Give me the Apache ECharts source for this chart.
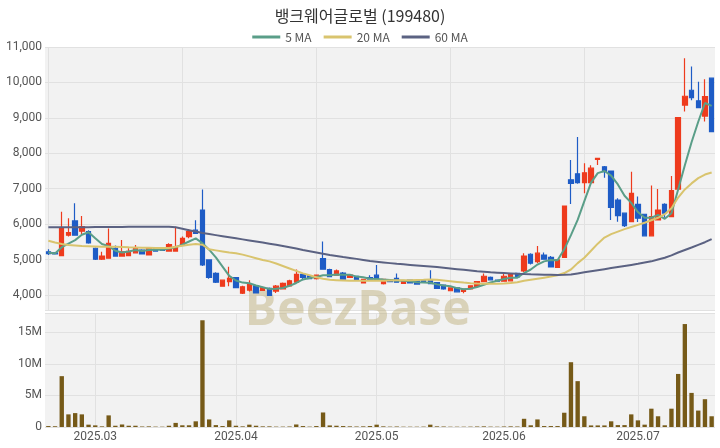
<!DOCTYPE html>
<html><head><meta charset="utf-8">
<script src="https://cdn.jsdelivr.net/npm/echarts@6/dist/echarts.min.js"></script>
<style>html,body{margin:0;padding:0;background:#fff}#c{width:720px;height:448px}</style>
</head><body><div id="c"></div>
<script>
const chartTitle = '뱅크웨어글로벌 (199480)';
const dates = [
'2025-02-20','2025-02-21','2025-02-24','2025-02-25','2025-02-26','2025-02-27','2025-02-28',
'2025-03-03','2025-03-04','2025-03-05','2025-03-06','2025-03-07','2025-03-10','2025-03-11','2025-03-12','2025-03-13','2025-03-14','2025-03-17','2025-03-18','2025-03-19','2025-03-20','2025-03-21','2025-03-24','2025-03-25','2025-03-26','2025-03-27','2025-03-28','2025-03-31',
'2025-04-01','2025-04-02','2025-04-03','2025-04-04','2025-04-07','2025-04-08','2025-04-09','2025-04-10','2025-04-11','2025-04-14','2025-04-15','2025-04-16','2025-04-17','2025-04-18','2025-04-21','2025-04-22','2025-04-23','2025-04-24','2025-04-25','2025-04-28','2025-04-29',
'2025-05-02','2025-05-07','2025-05-08','2025-05-09','2025-05-12','2025-05-13','2025-05-14','2025-05-15','2025-05-16','2025-05-19','2025-05-20','2025-05-21','2025-05-22','2025-05-23','2025-05-26','2025-05-27','2025-05-28','2025-05-29','2025-05-30',
'2025-06-02','2025-06-03','2025-06-04','2025-06-05','2025-06-09','2025-06-10','2025-06-11','2025-06-12','2025-06-13','2025-06-16','2025-06-17','2025-06-18','2025-06-19','2025-06-20','2025-06-23','2025-06-24','2025-06-25','2025-06-26','2025-06-27','2025-06-30',
'2025-07-01','2025-07-02','2025-07-03','2025-07-04','2025-07-07','2025-07-08','2025-07-09','2025-07-10','2025-07-11','2025-07-14','2025-07-15','2025-07-16'
];
const opens = [5220,5190,5110,5690,6090,5800,5790,5320,5010,5040,5320,5100,5110,5190,5270,5130,5310,5300,5240,5240,5410,5650,5830,6400,4990,4610,4250,4380,4490,4050,4140,4260,4130,4190,4110,4170,4260,4360,4580,4540,4460,5030,4720,4560,4620,4500,4530,4340,4490,4560,4320,4420,4470,4330,4420,4400,4420,4420,4350,4280,4120,4200,4100,4170,4240,4380,4500,4420,4390,4400,4610,4680,5150,4940,5130,5060,4780,5060,7250,7420,7170,7170,7830,7620,7500,6680,6310,6070,6560,6280,5670,6120,6560,6210,6990,9360,9780,9480,9050,10120];
const closes = [5170,5160,5880,5760,5690,5930,5470,5010,5100,5460,5100,5220,5230,5320,5160,5320,5240,5260,5420,5360,5600,5790,5740,4850,4500,4360,4420,4470,4210,4230,4310,4060,4210,3990,4250,4330,4400,4580,4500,4460,4560,4730,4520,4680,4450,4560,4410,4440,4450,4430,4440,4380,4360,4400,4340,4310,4370,4320,4190,4170,4200,4090,4170,4260,4380,4530,4430,4390,4530,4580,4510,5100,4900,5180,5010,4790,4990,6510,7150,7170,7450,7580,7860,7480,6470,6240,5960,6870,6170,5670,6210,6400,6310,6950,9010,9610,9570,9290,9600,8610];
const lows = [5130,5150,5100,5650,5680,5700,5450,4990,4990,5020,5080,5090,5100,5180,5150,5120,5220,5250,5220,5220,5380,5600,5720,4820,4460,4340,4230,4250,4190,4030,4100,4040,4110,3970,4060,4160,4250,4340,4420,4450,4440,4720,4500,4550,4440,4490,4400,4330,4440,4420,4300,4370,4350,4320,4330,4300,4360,4310,4170,4150,4110,4080,4050,4160,4230,4370,4410,4380,4380,4390,4500,4650,4860,4900,5000,4780,4760,5050,6570,7140,6870,7160,7670,7310,6120,6070,5920,6060,6060,5660,5660,6100,6180,6200,6980,9180,9500,9270,8900,8600];
const highs = [5290,5200,6350,6170,6590,6230,5830,5340,5220,5880,5400,5550,5320,5410,5290,5350,5330,5310,5460,5930,5650,5860,6110,6980,5000,4640,4440,4800,4510,4260,4420,4280,4230,4210,4280,4350,4430,4720,4600,4550,4580,5510,4740,4720,4650,4570,4540,4450,4560,4850,4460,4430,4610,4410,4430,4410,4430,4700,4360,4290,4210,4220,4180,4270,4390,4610,4520,4430,4600,4600,4620,5180,5180,5380,5200,5100,5000,6520,7810,8460,7720,7660,7860,7640,7510,6730,6330,7480,6780,6290,7090,6990,6590,7360,9020,10680,10450,10020,10090,10130];
const ma5 = [5200,5170,5350,5450,5550,5700,5770,5600,5440,5380,5250,5200,5230,5270,5240,5270,5280,5280,5310,5350,5420,5510,5600,5460,5280,5060,4800,4540,4410,4350,4330,4270,4220,4170,4180,4200,4260,4340,4440,4480,4510,4560,4560,4580,4575,4575,4520,4500,4460,4455,4435,4425,4410,4400,4385,4360,4355,4345,4300,4270,4245,4195,4165,4180,4225,4290,4355,4400,4450,4490,4490,4620,4720,4860,4950,4990,4980,5290,5690,6120,6650,7170,7440,7500,7370,7120,6800,6600,6340,6180,6180,6260,6150,6310,6980,7660,8310,8890,9420,9340];
const ma20 = [5530,5480,5440,5410,5395,5380,5375,5370,5365,5365,5365,5355,5345,5340,5335,5335,5330,5325,5330,5360,5390,5420,5440,5420,5290,5260,5230,5200,5180,5140,5090,5040,4990,4950,4890,4820,4750,4680,4610,4560,4500,4460,4430,4420,4410,4400,4400,4400,4400,4400,4405,4410,4415,4420,4420,4425,4430,4440,4430,4410,4390,4370,4350,4335,4325,4320,4320,4320,4325,4340,4360,4400,4430,4460,4490,4520,4560,4620,4720,4900,5050,5250,5450,5620,5720,5790,5860,5920,5980,6040,6110,6180,6280,6450,6750,6980,7150,7300,7400,7460];
const ma60 = [5910,5910,5912,5912,5914,5915,5916,5917,5918,5919,5920,5922,5924,5926,5928,5930,5930,5930,5930,5910,5870,5830,5790,5750,5720,5690,5660,5630,5600,5570,5540,5510,5480,5450,5420,5385,5350,5310,5270,5235,5200,5165,5130,5100,5070,5045,5020,4990,4960,4940,4920,4900,4880,4865,4850,4835,4820,4805,4790,4770,4750,4730,4710,4690,4670,4655,4640,4630,4620,4610,4600,4592,4585,4580,4575,4570,4565,4570,4580,4610,4640,4670,4700,4730,4760,4790,4820,4850,4880,4915,4950,5000,5050,5120,5200,5270,5340,5415,5490,5580];
const volumeM = [0.15,0.12,8.05,2.0,2.2,2.0,0.37,0.26,0.1,1.84,0.2,0.4,0.2,0.2,0.08,0.1,0.06,0.05,0.2,0.65,0.27,0.27,0.9,16.9,1.2,0.3,0.15,1.05,0.2,0.1,0.37,0.2,0.1,0.1,0.06,0.06,0.08,0.4,0.15,0.06,0.15,2.3,0.25,0.2,0.15,0.1,0.08,0.1,0.15,0.37,0.1,0.06,0.08,0.05,0.05,0.05,0.06,0.37,0.1,0.08,0.05,0.05,0.05,0.06,0.08,0.1,0.06,0.05,0.08,0.1,0.08,1.3,0.27,1.2,0.15,0.15,0.15,2.26,10.26,7.26,1.7,0.25,0.25,0.25,0.9,0.3,0.3,2.0,1.05,0.37,2.9,1.7,0.27,2.9,8.4,16.3,5.4,2.6,4.4,1.7];
const legendNames = ['5 MA','20 MA','60 MA'];

const candleData = dates.map((d,i)=>[opens[i],closes[i],lows[i],highs[i]]);
const monthStart = (idx)=> idx>0 && dates[idx].slice(0,7)!==dates[idx-1].slice(0,7);
const fmtComma = v => String(v).replace(/\B(?=(\d{3})+(?!\d))/g, ',');

const chart = echarts.init(document.getElementById('c'));
const UP='#ee3b1d', DOWN='#1e5cc6';
chart.setOption({
  animation:false,
  backgroundColor:'#ffffff',
  textStyle:{fontFamily:'"Noto Sans CJK KR", "Noto Sans", sans-serif'},
  title:{text:chartTitle,left:'center',top:3,textStyle:{fontSize:16,fontWeight:'normal',color:'#333'}},
  legend:{data:legendNames,top:26,left:'center',icon:'rect',itemWidth:28,itemHeight:3,itemGap:12,textStyle:{fontSize:12,color:'#555'}},
  graphic:[{type:'text',silent:true,z:1,x:358,y:311,style:{text:'BeezBase',font:'bold 48px "Noto Sans"',fill:'rgba(192,178,128,0.5)',align:'center',verticalAlign:'middle',textAlign:'center',textVerticalAlign:'middle'}}],
  grid:[
    {left:45,right:5,top:47,height:263,show:true,backgroundColor:'#f2f2f2',borderWidth:0},
    {left:45,right:5,top:313,bottom:21,show:true,backgroundColor:'#f2f2f2',borderWidth:0}
  ],
  xAxis:[
    {type:'category',gridIndex:0,data:dates,boundaryGap:true,axisLine:{show:false},axisTick:{show:false},axisLabel:{show:false},
     splitLine:{show:true,interval:19,alignWithLabel:true,lineStyle:{color:'#e1e1e1',width:1}}},
    {type:'category',gridIndex:1,data:dates,boundaryGap:true,axisLine:{show:false},axisTick:{show:false},
     axisLabel:{interval:(i)=>monthStart(i),formatter:(v)=>v.slice(0,7).replace('-','.'),color:'#555',fontSize:12,margin:4,fontFamily:'Roboto'},
     splitLine:{show:true,interval:(i)=>monthStart(i),alignWithLabel:true,lineStyle:{color:'#e1e1e1',width:1}}}
  ],
  yAxis:[
    {type:'value',gridIndex:0,min:3577,max:11000,splitNumber:7,axisLine:{show:false},axisTick:{show:false},
     axisLabel:{showMinLabel:false,formatter:fmtComma,color:'#555',fontSize:12,margin:3,fontFamily:'Roboto'},
     splitLine:{lineStyle:{color:'#e1e1e1'}}},
    {type:'value',gridIndex:1,min:0,max:18.05,interval:5,axisLine:{show:false},axisTick:{show:false},
     axisLabel:{showMaxLabel:false,formatter:(v)=>v===0?'0':v+'M',color:'#555',fontSize:12,margin:3,fontFamily:'Roboto'},
     splitLine:{lineStyle:{color:'#e1e1e1'}}}
  ],
  series:[
    {type:'candlestick',name:'price',xAxisIndex:0,yAxisIndex:0,data:candleData,barWidth:'72%',
     itemStyle:{color:UP,color0:DOWN,borderColor:UP,borderColor0:DOWN,borderWidth:1.2}},
    {type:'line',name:'5 MA',xAxisIndex:0,yAxisIndex:0,data:ma5,symbol:'none',lineStyle:{width:2,color:'#5a9e88'},itemStyle:{color:'#5a9e88'}},
    {type:'line',name:'20 MA',xAxisIndex:0,yAxisIndex:0,data:ma20,symbol:'none',lineStyle:{width:2,color:'#d9c46e'},itemStyle:{color:'#d9c46e'}},
    {type:'line',name:'60 MA',xAxisIndex:0,yAxisIndex:0,data:ma60,symbol:'none',lineStyle:{width:2,color:'#5b6282'},itemStyle:{color:'#5b6282'}},
    {type:'bar',name:'volume',xAxisIndex:1,yAxisIndex:1,data:volumeM,barWidth:'65%',itemStyle:{color:'#765a18'}}
  ]
});
</script></body></html>
